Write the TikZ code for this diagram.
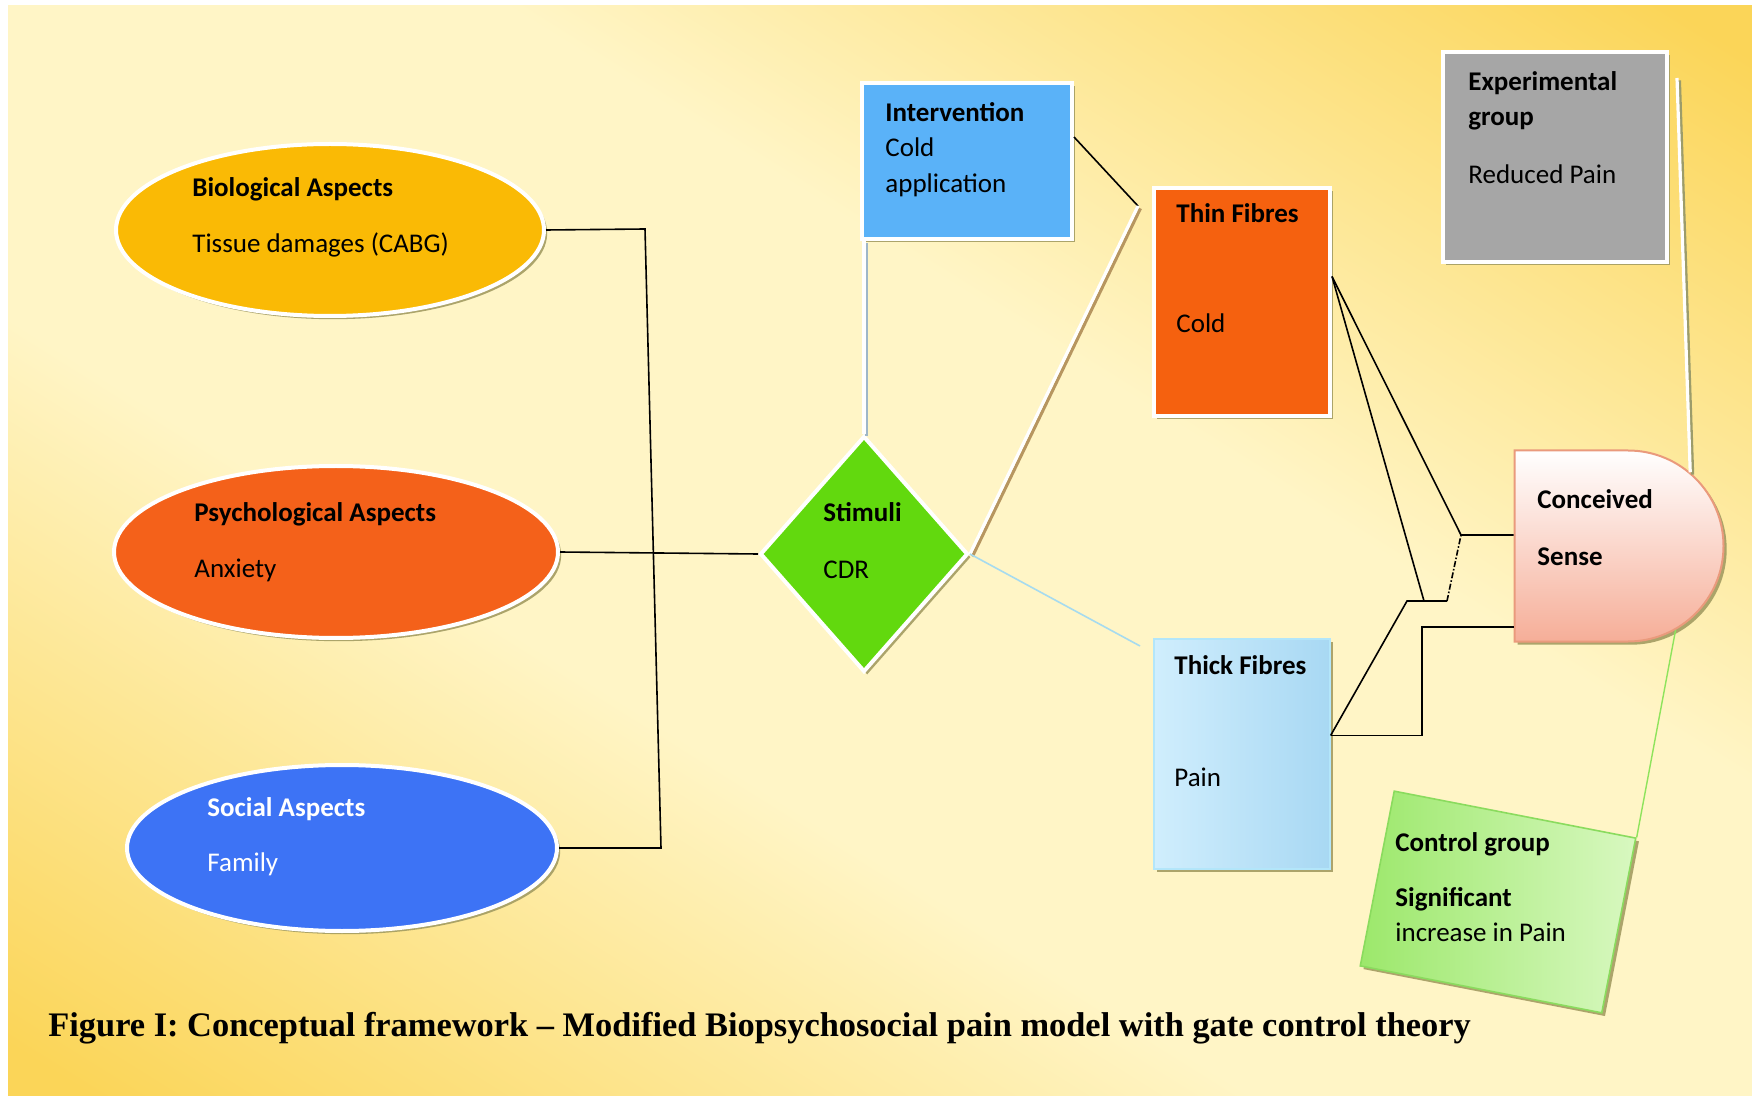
\documentclass[tikz,border=0pt]{standalone}
\usepackage{fontspec}
\setmainfont{Carlito}
\newfontfamily\capfont{Liberation Serif}
\usepackage{tikz}
\usetikzlibrary{shapes.geometric, shapes.misc, shadows, calc}
\definecolor{bgpale}{HTML}{FFF5C6}
\definecolor{bgdeep}{HTML}{FBD558}
\definecolor{bioc}{HTML}{FABA05}
\definecolor{psyc}{HTML}{F4611A}
\definecolor{socc}{HTML}{3D73F5}
\definecolor{stimc}{HTML}{62D90E}
\definecolor{intc}{HTML}{5AB2F8}
\definecolor{thinc}{HTML}{F5610F}
\definecolor{expc}{HTML}{A6A6A6}
\definecolor{shadc}{HTML}{A39C62}
\definecolor{shadblue}{HTML}{9FB7C8}
\definecolor{shadtan}{HTML}{B79660}
\definecolor{shadolive}{HTML}{9C9C6A}
\definecolor{thinblue}{HTML}{A6DBEF}
\definecolor{thingreen}{HTML}{8EE35C}
\definecolor{sensec}{HTML}{F6AE98}
\definecolor{sensel}{HTML}{EA9A7C}
\definecolor{ctrll}{HTML}{8ADB5E}
\pgfdeclarehorizontalshading{bgshade}{100bp}{color(0bp)=(bgdeep); color(30bp)=(bgdeep);
  color(44bp)=(bgpale); color(56bp)=(bgpale); color(70bp)=(bgdeep); color(100bp)=(bgdeep)}
\tikzset{
  blob/.style={draw=white, line width=2pt, inner sep=0pt,
    drop shadow={shadow xshift=1.6pt, shadow yshift=-1.6pt, fill=shadc, opacity=0.9}},
  lbl/.style={anchor=west, inner sep=0pt, text height=0.644em, text depth=0pt,
    font=\fontsize{13.5}{16}\selectfont},
  hd/.style={lbl, font=\fontsize{13.5}{16}\selectfont\bfseries},
  conn/.style={draw=black, line width=0.8pt},
  wline/.style={draw=white, line width=1.6pt,
    preaction={draw=#1, line width=1.6pt, transform canvas={shift={(1.2pt,-1.2pt)}}}}
}

\begin{document}
\begin{tikzpicture}[x=0.5pt, y=-0.5pt]
\useasboundingbox (0,0) rectangle (1752,1096);
\fill[white] (0,0) rectangle (1752,1096);
\begin{scope}
\clip (8,6) rectangle (1752,1096);
\shade[shading=bgshade, transform canvas={rotate around={58:(880,551)}}] (-220,-549) rectangle (1980,1651);
\end{scope}

\node[blob, ellipse, fill=bioc, minimum width=214pt, minimum height=86pt] (bio) at (330,230) {};
\node[blob, ellipse, fill=psyc, minimum width=222pt, minimum height=86pt] (psy) at (336,552) {};
\node[blob, ellipse, fill=socc, minimum width=215pt, minimum height=83pt] (soc) at (342,848) {};
\node[blob, diamond, fill=stimc, minimum width=104pt, minimum height=118pt] (stim) at (864,554) {};
\node[blob, rectangle, fill=intc, minimum width=105pt, minimum height=78pt] (interv) at (967,161) {};
\node[blob, rectangle, fill=thinc, minimum width=88pt, minimum height=114pt] (thin) at (1242,302) {};
\node[blob, rectangle, draw=white!70!cyan, line width=0.6pt, left color={rgb,255:red,208;green,238;blue,253},
  middle color={rgb,255:red,236;green,249;blue,255}, right color={rgb,255:red,168;green,216;blue,243},
  minimum width=88pt, minimum height=115pt] (thick) at (1242,754) {};
\node[blob, rounded rectangle, rounded rectangle west arc=none, draw=sensel, line width=1pt,
  top color=white, bottom color=sensec, minimum width=104.5pt, minimum height=95.5pt] (sense) at (1619,546) {};
\node[blob, rectangle, fill=expc, minimum width=112pt, minimum height=105pt] (expg) at (1555,157) {};
\node[blob, rectangle, rotate=-11, draw=ctrll, line width=0.8pt, left color={rgb,255:red,156;green,232;blue,107},
  right color={rgb,255:red,216;green,248;blue,192}, minimum width=123pt, minimum height=89pt] (ctrl) at (1498,902) {};

\node[hd] (bio-h) at (192,190) {Biological Aspects};
\node[lbl] (bio-t) at (192,246) {Tissue damages (CABG)};
\node[hd] (psy-h) at (194,515) {Psychological Aspects};
\node[lbl] (psy-t) at (194,571) {Anxiety};
\node[hd, white] (soc-h) at (207,810) {Social Aspects};
\node[lbl, white] (soc-t) at (207,865) {Family};
\node[hd] (stim-h) at (823,515) {Stimuli};
\node[lbl] (stim-t) at (823,572) {CDR};
\node[hd] (int-h) at (885,115) {Intervention};
\node[lbl] (int-t1) at (885,150) {Cold};
\node[lbl] (int-t2) at (885,186) {application};
\node[hd] (thin-h) at (1176,216) {Thin Fibres};
\node[lbl] (thin-t) at (1176,326) {Cold};
\node[hd] (thick-h) at (1174,668) {Thick Fibres};
\node[lbl] (thick-t) at (1174,780) {Pain};
\node[hd] (sense-h) at (1537,502) {Conceived};
\node[hd] (sense-t) at (1537,559) {Sense};
\node[hd] (exp-h1) at (1468,84) {Experimental};
\node[hd] (exp-h2) at (1468,119) {group};
\node[lbl] (exp-t) at (1468,177) {Reduced Pain};
\node[hd] (ctrl-h) at (1395,845) {Control group};
\node[hd] (ctrl-s) at (1395,900) {Significant};
\node[lbl] (ctrl-t) at (1395,935) {increase in Pain};
\node[anchor=west, inner sep=0pt, font=\capfont\bfseries\fontsize{17.2}{20}\selectfont] (cap) at (48,1028)
  {Figure I: Conceptual framework – Modified Biopsychosocial pain model with gate control theory};

\coordinate (bk1) at (645,229);
\coordinate (bk2) at (661,848);
\coordinate (thinin) at (1138,206);
\coordinate (thickin) at (1140,646);
\coordinate (expin) at (1677,78);
\coordinate (thinout) at ($(thin.north east)!0.39!(thin.south east)$);
\coordinate (thickout) at ($(thick.north east)!0.42!(thick.south east)$);
\coordinate (gup) at (1461,535);
\coordinate (gdn) at (1447,601);
\coordinate (gl) at (1407,601);
\coordinate (gm) at (1424,601);
\coordinate (gs) at (1422,627);

\draw[conn] (bio.east) -- (bk1) -- (bk2) -- (soc.east);
\draw[conn] (psy.east) -- (stim.west);
\draw[wline=shadblue] (stim.north |- interv.south) -- (stim.north);
\draw[conn] ($(interv.north east)!0.35!(interv.south east)$) -- (thinin);
\draw[wline=shadtan] (stim.east) -- (thinin);
\draw[draw=thinblue, line width=0.8pt] (stim.east) -- (thickin);
\draw[conn] (thinout) -- (gup) -- (gup -| sense.west);
\draw[conn] (thinout) -- (gm);
\draw[conn] (thickout) -- (gl) -- (gdn);
\draw[conn, densely dashdotted] (gdn) -- (gup);
\draw[conn] (thickout) -- (gs |- thickout) -- (gs) -- (gs -| sense.west);
\draw[wline=shadolive] (expin) -- (sense.46);
\draw[draw=thingreen, line width=0.7pt] (sense.-56) -- (ctrl.north east);
\end{tikzpicture}
\end{document}
